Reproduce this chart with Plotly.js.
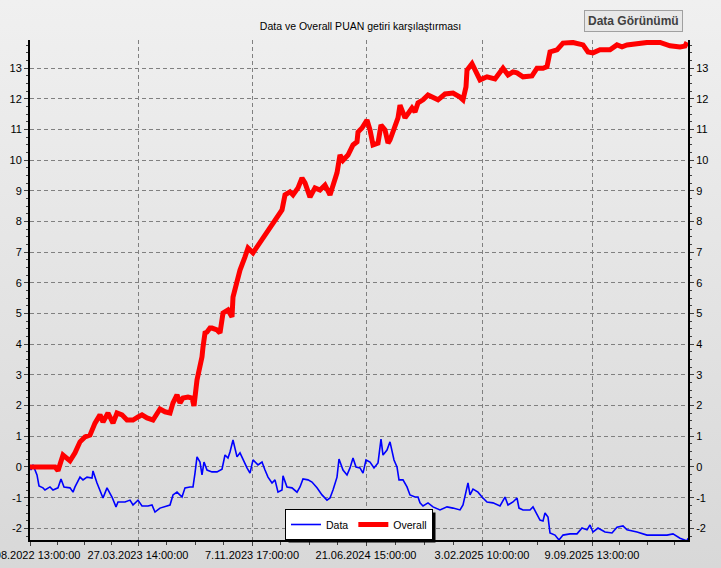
<!DOCTYPE html>
<html>
<head>
<meta charset="utf-8">
<script src="https://cdn.plot.ly/plotly-3.0.1.min.js"></script>
<style>
  html, body { margin: 0; padding: 0; }
  body { width: 721px; height: 568px; background: linear-gradient(to bottom, #f0f0f0 0%, #d8d8d8 100%); overflow: hidden; }
  #chart { width: 721px; height: 568px; }
</style>
</head>
<body>
<div id="chart"></div>
<script>
// Bar index positions and tick labels
const tickPositions = [0, 108, 222, 336, 452, 562];
const tickLabels = ["17.08.2022 13:00:00", "27.03.2023 14:00:00", "7.11.2023 17:00:00",
                    "21.06.2024 15:00:00", "3.02.2025 10:00:00", "9.09.2025 13:00:00"];
const yTicks = [-2, -1, 0, 1, 2, 3, 4, 5, 6, 7, 8, 9, 10, 11, 12, 13];

// Overall series
const overallIdx = [0, 25, 28, 31, 33, 40, 45, 50, 55, 60, 65, 70, 73, 78, 83, 87, 92, 97, 103, 108,
  112, 117, 123, 130, 135, 140, 143, 147, 150, 153, 158, 162, 164, 167, 170, 172, 173, 175, 177, 180,
  182, 187, 190, 193, 198, 202, 203, 207, 210, 215, 218, 223, 227, 232, 238, 243, 247, 252, 255, 260,
  263, 268, 272, 275, 280, 285, 290, 295, 300, 303, 307, 310, 313, 318, 323, 327, 328, 332, 337, 340,
  343, 348, 351, 355, 358, 360, 365, 368, 370, 373, 375, 382, 385, 388, 393, 398, 403, 408, 415, 423,
  430, 433, 436, 437, 442, 447, 450, 457, 465, 473, 478, 483, 487, 493, 502, 507, 513, 517, 520, 527,
  533, 543, 553, 558, 563, 570, 580, 587, 592, 597, 607, 617, 630, 640, 650, 655, 657];
const overallVal = [0, 0, -0.12, 0.23, 0.39, 0.2, 0.46, 0.82, 0.98, 1.04, 1.43, 1.7, 1.47, 1.76, 1.43, 1.76, 1.7, 1.53, 1.53, 1.63,
  1.7, 1.6, 1.53, 1.89, 1.8, 1.76, 2.09, 2.35, 2.09, 2.25, 2.28, 2.25, 1.99, 2.84, 3.26, 3.59, 3.91, 4.37, 4.4, 4.53,
  4.53, 4.47, 4.37, 5.02, 5.12, 4.89, 5.54, 6.1, 6.42, 6.85, 7.14, 6.98, 7.17, 7.4, 7.66, 7.96, 8.15, 8.38, 8.87, 8.97,
  8.87, 9.1, 9.42, 9.26, 8.8, 9.1, 9.03, 9.19, 8.87, 9.13, 9.59, 10.17, 10.0, 10.17, 10.5, 10.6, 10.92, 11.05, 11.31, 10.99,
  10.5, 10.56, 11.15, 10.99, 10.56, 10.66, 11.09, 11.38, 11.8, 11.57, 11.38, 11.7, 11.57, 11.87, 11.97, 12.13, 12.06, 11.97, 12.16, 12.19,
  12.06, 11.97, 12.39, 12.94, 13.15, 12.78, 12.62, 12.72, 12.65, 13.0, 12.78, 12.88, 12.85, 12.72, 12.75, 13.0, 13.0, 13.05, 13.53, 13.6,
  13.82, 13.84, 13.76, 13.53, 13.5, 13.6, 13.6, 13.76, 13.7, 13.76, 13.82, 13.84, 13.84, 13.73, 13.69, 13.72, 13.85];

// Data series
const dataIdx = [0, 1, 3, 7, 9, 13, 15, 20, 23, 28, 31, 34, 40, 43, 45, 50, 53, 57, 62, 63,
  67, 70, 73, 77, 82, 86, 88, 95, 100, 103, 108, 112, 118, 122, 125, 130, 135, 140, 143, 147,
  152, 155, 160, 163, 165, 167, 170, 172, 174, 177, 182, 187, 192, 195, 198, 200, 203, 207, 210, 213,
  217, 220, 223, 228, 232, 235, 238, 242, 245, 248, 252, 253, 257, 262, 267, 270, 273, 278, 282, 287,
  292, 297, 300, 303, 307, 309, 313, 317, 320, 323, 326, 330, 333, 336, 340, 344, 348, 351, 353, 357,
  360, 364, 367, 369, 373, 377, 380, 385, 388, 390, 393, 398, 403, 410, 417, 423, 430, 433, 436, 438,
  440, 443, 448, 452, 457, 463, 470, 475, 478, 483, 487, 489, 493, 500, 503, 507, 510, 513, 515, 518,
  520, 525, 529, 533, 540, 547, 552, 557, 560, 563, 568, 575, 582, 587, 593, 597, 607, 617, 627, 637,
  643, 650, 657, 658];
const dataVal = [0, -0.1, 0.07, -0.26, -0.62, -0.68, -0.75, -0.65, -0.75, -0.68, -0.39, -0.65, -0.68, -0.82, -0.65, -0.33, -0.42, -0.33, -0.36, -0.13,
  -0.52, -0.75, -1.01, -0.68, -0.98, -1.3, -1.14, -1.14, -1.08, -1.24, -1.08, -1.27, -1.27, -1.24, -1.47, -1.34, -1.3, -1.24, -0.91, -0.82,
  -0.98, -0.68, -0.65, -0.65, -0.2, 0.33, 0.16, -0.26, 0.16, -0.1, -0.16, -0.16, -0.07, 0.39, 0.29, 0.49, 0.88, 0.33, 0.46, 0.23,
  -0.03, -0.2, 0.23, 0.07, 0.16, -0.1, -0.33, -0.52, -0.42, -0.82, -0.75, -0.29, -0.65, -0.68, -0.82, -0.65, -0.39, -0.42, -0.49, -0.68,
  -0.91, -1.08, -1.01, -0.75, -0.33, 0.26, -0.1, -0.26, -0.03, 0.29, 0, -0.03, -0.2, 0.23, 0.16, -0.03, 0.13, 0.91, 0.39, 0.55,
  0.82, 0.23, 0, -0.42, -0.42, -0.65, -0.91, -0.98, -0.98, -1.17, -1.27, -1.17, -1.3, -1.4, -1.3, -1.34, -1.4, -1.24, -0.85, -0.52,
  -0.91, -0.72, -0.82, -0.98, -1.14, -1.17, -1.27, -0.98, -1.24, -1.14, -1.01, -1.34, -1.4, -1.4, -1.3, -1.57, -1.73, -1.76, -1.5, -1.63,
  -2.15, -2.22, -2.38, -2.22, -2.18, -2.18, -1.99, -2.05, -1.89, -2.12, -1.99, -2.12, -2.15, -1.96, -1.92, -2.05, -2.12, -2.22, -2.22, -2.22,
  -2.18, -2.32, -2.41, -2.32];

// minor tick positions: quarter points between major ticks
const minorX = [];
for (let i = 0; i < tickPositions.length - 1; i++) {
  const a = tickPositions[i], b = tickPositions[i + 1];
  for (let k = 1; k < 4; k++) minorX.push(a + (b - a) * k / 4);
}
const lastStep = (tickPositions[5] - tickPositions[4]) / 4;
for (let v = tickPositions[5] + lastStep; v < 658; v += lastStep) minorX.push(v);

const FONT = "Liberation Sans, Arial, sans-serif";
const yRange = [-2.38, 13.92];

const traces = [
  { x: dataIdx, y: dataVal, name: "Data", type: "scatter", mode: "lines",
    line: { color: "#0000ff", width: 1.6 }, yaxis: "y" },
  { x: overallIdx, y: overallVal, name: "Overall", type: "scatter", mode: "lines",
    line: { color: "#ff0000", width: 5 }, yaxis: "y2" }
];

const yCommon = {
  range: yRange, tickmode: "array", tickvals: yTicks, ticktext: yTicks.map(String),
  showgrid: true, gridcolor: "#808080", griddash: "4px,3px", gridwidth: 1,
  zeroline: false, showline: true, linecolor: "#000", linewidth: 2,
  ticks: "outside", ticklen: 4, tickcolor: "#404040",
  minor: { dtick: 0.25, tick0: 0, ticks: "outside", ticklen: 2, tickcolor: "#404040", showgrid: false },
  tickfont: { family: FONT, size: 11, color: "#000" }, fixedrange: true
};

const layout = {
  width: 721, height: 568,
  margin: { l: 30, r: 33, t: 40, b: 28, pad: 0 },
  paper_bgcolor: "rgba(0,0,0,0)", plot_bgcolor: "rgba(0,0,0,0)",
  title: { text: "Data ve Overall PUAN getiri karşılaştırması", font: { family: FONT, size: 10.5, color: "#000" },
           x: 0.5, xanchor: "center", y: 0.954, yanchor: "middle" },
  xaxis: {
    range: [0, 658], tickmode: "array", tickvals: tickPositions, ticktext: tickLabels,
    showgrid: true, gridcolor: "#808080", griddash: "4px,3px", gridwidth: 1,
    zeroline: false, showline: true, linecolor: "#000", linewidth: 2,
    ticks: "outside", ticklen: 4, tickcolor: "#404040", ticklabeloverflow: "allow",
    minor: { tickmode: "array", tickvals: minorX, ticks: "outside", ticklen: 3, tickcolor: "#404040", showgrid: false },
    tickfont: { family: FONT, size: 11, color: "#000" }, tickangle: 0, fixedrange: true
  },
  yaxis: Object.assign({}, yCommon, { side: "left" }),
  yaxis2: Object.assign({}, yCommon, { side: "right", overlaying: "y" }),
  showlegend: true,
  legend: {
    orientation: "h", x: 0.5, xanchor: "center", y: 0.0, yanchor: "bottom",
    bgcolor: "#ffffff", bordercolor: "#000", borderwidth: 1,
    font: { family: FONT, size: 10.5, color: "#000" }, itemwidth: 30, tracegroupgap: 0
  },
  annotations: [{
    text: "<b>Data Görünümü</b>", xref: "paper", yref: "paper", x: 0.9172, y: 1.039,
    xanchor: "center", yanchor: "middle", showarrow: false,
    font: { family: FONT, size: 12, color: "#404040" },
    bgcolor: "#e8e8e8", bordercolor: "#a0a0a0", borderwidth: 1, borderpad: 3
  }],
  shapes: []
};

Plotly.newPlot("chart", traces, layout, { displayModeBar: false, staticPlot: true }).then(function (gd) {
  // drop shadow behind the legend box (offset 3px right/down)
  const bg = gd.querySelector(".legend .bg");
  if (!bg) return;
  const r = bg.getBoundingClientRect();
  const fs = gd._fullLayout._size;
  const toPX = (px) => (px - fs.l) / fs.w;
  const toPY = (py) => 1 - (py - fs.t) / fs.h;
  Plotly.relayout(gd, {
    shapes: [{
      type: "rect", xref: "paper", yref: "paper", layer: "above",
      x0: toPX(r.left + 3), x1: toPX(r.right + 3), y0: toPY(r.bottom + 3), y1: toPY(r.top + 3),
      fillcolor: "#000", line: { width: 0 }
    }]
  });
});
</script>
</body>
</html>
